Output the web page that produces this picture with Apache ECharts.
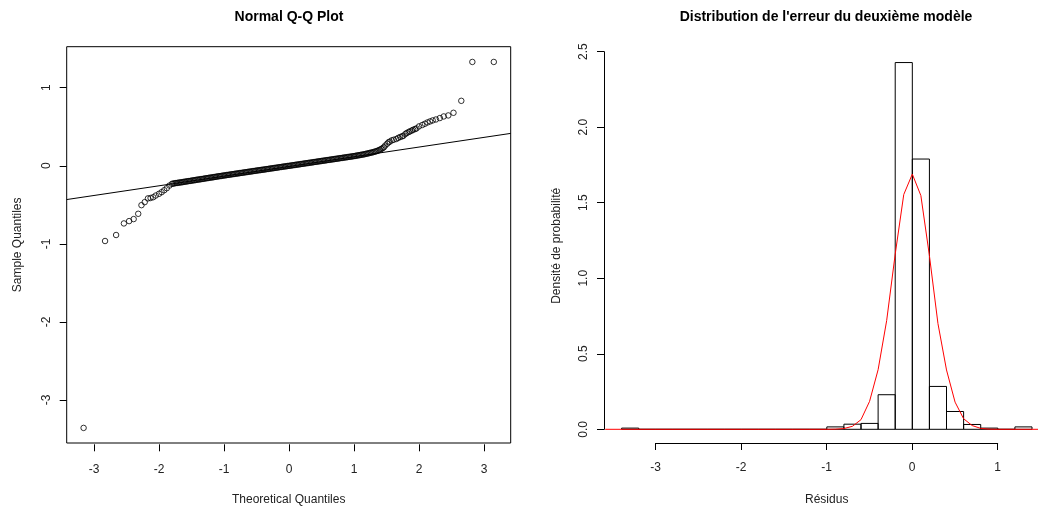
<!DOCTYPE html>
<html lang="fr">
<head>
<meta charset="UTF-8">
<title>Normal Q-Q Plot / Distribution de l'erreur</title>
<script src="https://cdn.jsdelivr.net/npm/echarts@6/dist/echarts.min.js"></script>
<style>
    html, body { margin: 0; padding: 0; background: #fff; }
    #main { width: 1038px; height: 511px; }
</style>
</head>
<body>
<div id="main"></div>
<script>
    // Q-Q plot : quantiles theoriques / quantiles de l'echantillon
    var qqTheo = [
        -3.16, -2.83, -2.66, -2.54, -2.46, -2.39, -2.32, -2.27, -2.22, -2.17,
        -2.13, -2.09, -2.05, -2.00, -1.96, -1.92, -1.88, -1.84, -1.80,
        -1.78, -1.76, -1.74, -1.72, -1.70, -1.68, -1.66, -1.64, -1.62, -1.60,
        -1.58, -1.56, -1.54, -1.52, -1.50, -1.48, -1.46, -1.44, -1.42, -1.40,
        -1.38, -1.36, -1.34, -1.32, -1.30, -1.28, -1.26, -1.24, -1.22, -1.20,
        -1.18, -1.16, -1.14, -1.12, -1.10, -1.08, -1.06, -1.04, -1.02, -1.00,
        -0.98, -0.96, -0.94, -0.92, -0.90, -0.88, -0.86, -0.84, -0.82, -0.80,
        -0.78, -0.76, -0.74, -0.72, -0.70, -0.68, -0.66, -0.64, -0.62, -0.60,
        -0.58, -0.56, -0.54, -0.52, -0.50, -0.48, -0.46, -0.44, -0.42, -0.40,
        -0.38, -0.36, -0.34, -0.32, -0.30, -0.28, -0.26, -0.24, -0.22, -0.20,
        -0.18, -0.16, -0.14, -0.12, -0.10, -0.08, -0.06, -0.04, -0.02, 0.00,
        0.02, 0.04, 0.06, 0.08, 0.10, 0.12, 0.14, 0.16, 0.18, 0.20,
        0.22, 0.24, 0.26, 0.28, 0.30, 0.32, 0.34, 0.36, 0.38, 0.40,
        0.42, 0.44, 0.46, 0.48, 0.50, 0.52, 0.54, 0.56, 0.58, 0.60,
        0.62, 0.64, 0.66, 0.68, 0.70, 0.72, 0.74, 0.76, 0.78, 0.80,
        0.82, 0.84, 0.86, 0.88, 0.90, 0.92, 0.94, 0.96, 0.98, 1.00,
        1.02, 1.04, 1.06, 1.08, 1.10, 1.12, 1.14, 1.16, 1.18, 1.20,
        1.22, 1.24, 1.26, 1.28, 1.30, 1.32, 1.34, 1.36, 1.38, 1.40,
        1.42, 1.44, 1.46, 1.48, 1.51, 1.53, 1.55, 1.58, 1.61, 1.65,
        1.68, 1.71, 1.74, 1.76, 1.79, 1.81, 1.84, 1.86, 1.89, 1.91,
        1.94, 1.96, 2.00, 2.05, 2.09, 2.13, 2.17, 2.21, 2.26, 2.32,
        2.38, 2.45, 2.53, 2.65, 2.82, 3.15
    ];
    var qqSample = [
        -3.37, -0.966, -0.889, -0.740, -0.710, -0.684, -0.616, -0.505, -0.466, -0.418,
        -0.413, -0.403, -0.381, -0.359, -0.338, -0.313, -0.287, -0.253, -0.231,
        -0.227, -0.224, -0.221, -0.219, -0.216, -0.214, -0.211, -0.209, -0.206, -0.203,
        -0.200, -0.198, -0.195, -0.193, -0.190, -0.187, -0.185, -0.182, -0.179, -0.176,
        -0.174, -0.171, -0.169, -0.166, -0.163, -0.160, -0.158, -0.155, -0.152, -0.150,
        -0.147, -0.145, -0.142, -0.139, -0.136, -0.134, -0.131, -0.129, -0.126, -0.123,
        -0.121, -0.118, -0.116, -0.113, -0.111, -0.108, -0.106, -0.103, -0.101, -0.098,
        -0.096, -0.093, -0.091, -0.088, -0.086, -0.083, -0.081, -0.078, -0.076, -0.073,
        -0.071, -0.068, -0.066, -0.063, -0.061, -0.058, -0.056, -0.054, -0.051, -0.049,
        -0.046, -0.044, -0.041, -0.039, -0.036, -0.034, -0.031, -0.029, -0.026, -0.024,
        -0.021, -0.019, -0.016, -0.014, -0.011, -0.009, -0.006, -0.004, -0.001, 0.001,
        0.003, 0.006, 0.008, 0.011, 0.013, 0.016, 0.018, 0.021, 0.023, 0.026,
        0.028, 0.031, 0.033, 0.036, 0.038, 0.041, 0.043, 0.046, 0.048, 0.051,
        0.053, 0.056, 0.058, 0.061, 0.063, 0.066, 0.068, 0.071, 0.073, 0.076,
        0.078, 0.081, 0.083, 0.086, 0.088, 0.091, 0.093, 0.096, 0.098, 0.101,
        0.103, 0.106, 0.108, 0.111, 0.113, 0.116, 0.118, 0.121, 0.123, 0.126,
        0.129, 0.132, 0.135, 0.138, 0.141, 0.144, 0.147, 0.150, 0.154, 0.158,
        0.162, 0.166, 0.170, 0.174, 0.178, 0.183, 0.188, 0.194, 0.201, 0.209,
        0.218, 0.228, 0.240, 0.262, 0.285, 0.303, 0.312, 0.328, 0.336, 0.346,
        0.360, 0.372, 0.380, 0.388, 0.410, 0.423, 0.435, 0.444, 0.455, 0.465,
        0.474, 0.482, 0.508, 0.526, 0.542, 0.559, 0.572, 0.585, 0.597, 0.615,
        0.636, 0.649, 0.683, 0.837, 1.337, 1.337
    ];
    // droite qqline (extremites)
    var qqLineX = [-3.42, 3.41];
    var qqLineY = [-0.433, 0.418];

    // histogramme des residus (densite)
    var histBreaks = [
        -3.4, -3.2, -3.0, -2.8, -2.6, -2.4, -2.2, -2.0, -1.8, -1.6, -1.4, -1.2,
        -1.0, -0.8, -0.6, -0.4, -0.2, 0.0, 0.2, 0.4, 0.6, 0.8, 1.0, 1.2, 1.4
    ];
    var histDensity = [
        0.008, 0, 0, 0, 0, 0, 0, 0, 0, 0, 0, 0,
        0.016, 0.034, 0.039, 0.229, 2.429, 1.790, 0.284, 0.118, 0.032, 0.008, 0, 0.016
    ];

    // courbe de densite normale (rouge)
    var densX = [-3.592, -1.0, -0.9, -0.8, -0.7, -0.6, -0.5, -0.4, -0.3, -0.2, -0.1, 0.0,
        0.1, 0.2, 0.3, 0.4, 0.5, 0.6, 0.7, 0.8, 0.9, 1.0, 1.592];
    var densY = [0, 0, 0.001, 0.005, 0.02, 0.064, 0.185, 0.395, 0.72, 1.16, 1.555, 1.69,
        1.548, 1.15, 0.70, 0.393, 0.18, 0.07, 0.025, 0.006, 0.001, 0, 0];

    var xTicksQQ = [-3, 3];
    var yTicksQQ = [-3, 1];
    var xTicksHist = [-3, 1];
    var yTicksHist = [0, 2.5];

    var FONT = 'Liberation Sans, Arial, sans-serif';
    var TXT = '#222';

    var qqData = [];
    for (var i = 0; i < qqTheo.length; i++) qqData.push([qqTheo[i], qqSample[i]]);
    var lineData = [[qqLineX[0], qqLineY[0]], [qqLineX[1], qqLineY[1]]];
    var histData = [];
    for (var j = 0; j < histDensity.length; j++) histData.push([histBreaks[j], histBreaks[j + 1], histDensity[j]]);
    var densData = [];
    for (var k = 0; k < densX.length; k++) densData.push([densX[k], densY[k]]);

    // axe visible seulement du premier au dernier tick (comme R)
    function tickAxis(idx, min, max, isY, step, decimals, showLine) {
        return {
            type: 'value', gridIndex: idx, min: min, max: max, interval: step,
            axisLine: {show: showLine, lineStyle: {color: '#000', width: 1}},
            axisTick: {show: true, length: 7, lineStyle: {color: '#000', width: 1}},
            axisLabel: {
                show: true, color: TXT, fontFamily: FONT, fontSize: 12,
                margin: (isY ? 14 : 19), rotate: (isY ? 90 : 0),
                formatter: function (v) { return v.toFixed(decimals); }
            },
            splitLine: {show: false}
        };
    }
    function hiddenAxis(idx, min, max) {
        return {type: 'value', gridIndex: idx, min: min, max: max, show: false};
    }
    function nameAxis(idx, min, max, name, gap) {
        return {
            type: 'value', gridIndex: idx, min: min, max: max,
            name: name, nameLocation: 'middle', nameGap: gap,
            nameTextStyle: {color: TXT, fontFamily: FONT, fontSize: 12},
            axisLine: {show: false}, axisTick: {show: false}, axisLabel: {show: false},
            splitLine: {show: false}
        };
    }

    var option = {
        animation: false,
        backgroundColor: '#fff',
        title: [
            {
                text: 'Normal Q-Q Plot', left: 289, top: 10, textAlign: 'center', padding: 0,
                textStyle: {fontFamily: FONT, fontSize: 14, fontWeight: 'bold', color: '#000'}
            },
            {
                text: "Distribution de l'erreur du deuxième modèle", left: 826, top: 10, textAlign: 'center', padding: 0,
                textStyle: {fontFamily: FONT, fontSize: 14, fontWeight: 'bold', color: '#000'}
            }
        ],
        grid: [
            // 0 : zone du Q-Q plot (cadre)
            {left: 66.7, top: 46.7, width: 444, height: 397.6, show: true, borderColor: '#000', borderWidth: 1, backgroundColor: 'transparent'},
            // 1 : axe x du Q-Q plot
            {left: 94, top: 46.7, width: 390, height: 397.6},
            // 2 : axe y du Q-Q plot
            {left: 66.7, top: 87.7, width: 100, height: 312.3},
            // 3 : zone de l'histogramme (coupee au bord droit de la fenetre, comme l'original)
            {left: 605.2, top: 47.3, width: 432.8, height: 397},
            // 4 : axe x de l'histogramme
            {left: 655.7, top: 47.3, width: 342, height: 397},
            // 5 : axe y de l'histogramme
            {left: 604, top: 51.7, width: 100, height: 377.6}
        ],
        xAxis: [
            nameAxis(0, -3.42, 3.41, 'Theoretical Quantiles', 51),
            tickAxis(1, xTicksQQ[0], xTicksQQ[1], false, 1, 0, false),
            hiddenAxis(2, 0, 1),
            nameAxis(3, -3.592, 1.47, '', 51),
            tickAxis(4, xTicksHist[0], xTicksHist[1], false, 1, 0, true),
            hiddenAxis(5, 0, 1)
        ],
        yAxis: [
            nameAxis(0, -3.564, 1.533, 'Sample Quantiles', 43),
            hiddenAxis(1, 0, 1),
            tickAxis(2, yTicksQQ[0], yTicksQQ[1], true, 1, 0, false),
            nameAxis(3, -0.0993, 2.530, 'Densité de probabilité', 43),
            hiddenAxis(4, 0, 1),
            tickAxis(5, yTicksHist[0], yTicksHist[1], true, 0.5, 1, true)
        ],
        series: [
            {
                type: 'scatter', xAxisIndex: 0, yAxisIndex: 0,
                symbol: 'circle', symbolSize: 5.5,
                itemStyle: {color: 'rgba(0,0,0,0)', borderColor: '#000', borderWidth: 1},
                data: qqData
            },
            {
                type: 'line', xAxisIndex: 0, yAxisIndex: 0,
                showSymbol: false, lineStyle: {color: '#000', width: 1},
                data: lineData
            },
            {
                type: 'custom', xAxisIndex: 3, yAxisIndex: 3,
                encode: {x: [0, 1], y: 2},
                renderItem: function (params, api) {
                    var p0 = api.coord([api.value(0), api.value(2)]);
                    var p1 = api.coord([api.value(1), 0]);
                    return {
                        type: 'rect',
                        shape: {x: p0[0], y: p0[1], width: p1[0] - p0[0], height: p1[1] - p0[1]},
                        style: {fill: 'none', stroke: '#000', lineWidth: 1}
                    };
                },
                data: histData
            },
            {
                type: 'line', xAxisIndex: 3, yAxisIndex: 3,
                showSymbol: false, lineStyle: {color: '#ff0000', width: 1},
                data: densData
            }
        ]
    };
    // nom de l'axe x de l'histogramme, centre sur la zone complete (-3.592 .. 1.592)
    option.xAxis[4].name = 'Résidus';
    option.xAxis[4].nameLocation = 'middle';
    option.xAxis[4].nameGap = 51;
    option.xAxis[4].nameTextStyle = {color: TXT, fontFamily: FONT, fontSize: 12};

    var chart = echarts.init(document.getElementById('main'));
    chart.setOption(option);
</script>
</body>
</html>
